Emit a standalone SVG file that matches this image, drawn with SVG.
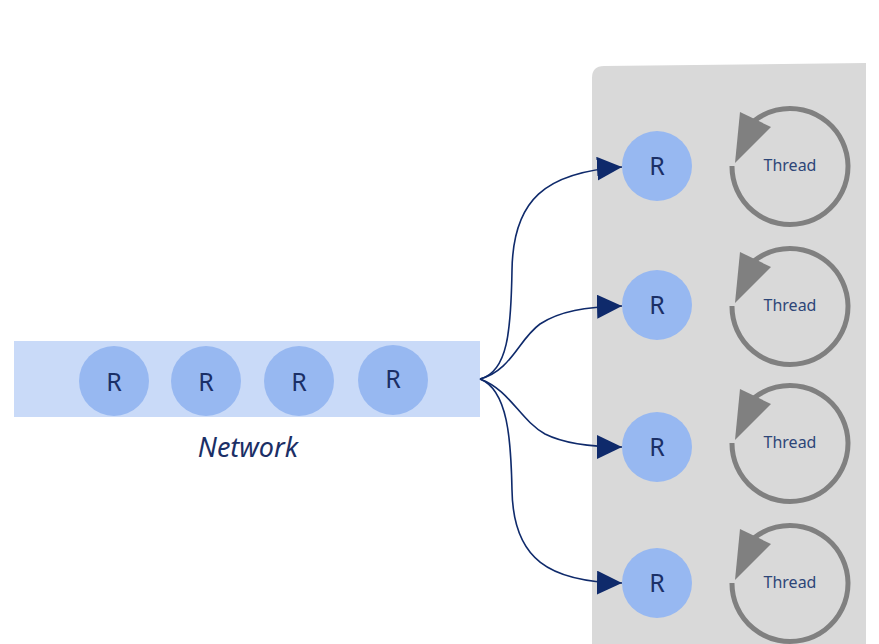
<svg xmlns="http://www.w3.org/2000/svg" width="879" height="644" viewBox="0 0 879 644">
<defs>
<style>
.req{fill:#97b8f1}
.rt{font-family:"Noto Sans","Open Sans",sans-serif;font-size:25px;fill:#1b2f66;text-anchor:middle;dominant-baseline:central}
.tt{font-family:"Noto Sans","Open Sans",sans-serif;font-size:16px;fill:#2d4678;text-anchor:middle;dominant-baseline:central}
.loop{fill:none;stroke:#808080;stroke-width:5}
.lhead{fill:#808080}
.conn{fill:none;stroke:#0f2a6b;stroke-width:1.6}
</style>
<marker id="ah" viewBox="0 0 25 24" refX="25" refY="12" markerWidth="25" markerHeight="24" markerUnits="userSpaceOnUse" orient="auto">
<path d="M0,0 L25,12 L0,24 Z" fill="#0f2a6b"/>
</marker>
<g id="threadShape">
<path class="loop" d="M-58,0 A58,58 0 1 0 -36,-45"/>
<path class="lhead" d="M-50,-54 L-19,-39 L-55,-3 Z"/>
</g>
</defs>
<rect width="879" height="644" fill="#ffffff"/>
<g id="server">
<path d="M604,66 L866,63 L866,644 L592,644 L592,78 Q592,66 604,66 Z" fill="#d9d9d9"/>
</g>
<g id="network">
<rect x="14" y="341" width="466" height="76" fill="#c9daf8"/>
<circle class="req" cx="114" cy="381" r="35"/>
<text class="rt" x="114" y="381">R</text>
<circle class="req" cx="206" cy="381" r="35"/>
<text class="rt" x="206" y="381">R</text>
<circle class="req" cx="299" cy="381" r="35"/>
<text class="rt" x="299" y="381">R</text>
<circle class="req" cx="393" cy="380" r="35"/>
<text class="rt" x="393" y="378">R</text>
<text x="248" y="457" font-family="Noto Sans, Open Sans, sans-serif" font-size="27" font-style="italic" fill="#1b2f66" text-anchor="middle">Network</text>
</g>
<g id="connectors">
<path class="conn" marker-end="url(#ah)" d="M480,379 C508,372 511,330 512,270 C513,200 545,172 622,167"/>
<path class="conn" marker-end="url(#ah)" d="M480,379 C512,370 518,340 540,324 C560,311 585,307 622,306"/>
<path class="conn" marker-end="url(#ah)" d="M480,379 C510,390 520,420 545,434 C565,444 590,447 622,447"/>
<path class="conn" marker-end="url(#ah)" d="M480,379 C508,390 511,440 512,490 C513,560 550,582 622,583"/>
</g>
<g id="r1"><circle class="req" cx="657" cy="166" r="35"/><text class="rt" x="657" y="165">R</text></g>
<g id="r2"><circle class="req" cx="657" cy="305" r="35"/><text class="rt" x="657" y="304">R</text></g>
<g id="r3"><circle class="req" cx="657" cy="447" r="35"/><text class="rt" x="657" y="446">R</text></g>
<g id="r4"><circle class="req" cx="657" cy="583" r="35"/><text class="rt" x="657" y="582">R</text></g>
<g id="thread1"><use href="#threadShape" x="790" y="166"/><text class="tt" x="790" y="165">Thread</text></g>
<g id="thread2"><use href="#threadShape" x="790" y="306"/><text class="tt" x="790" y="305">Thread</text></g>
<g id="thread3"><use href="#threadShape" x="790" y="443"/><text class="tt" x="790" y="442">Thread</text></g>
<g id="thread4"><use href="#threadShape" x="790" y="583"/><text class="tt" x="790" y="582">Thread</text></g>
</svg>
